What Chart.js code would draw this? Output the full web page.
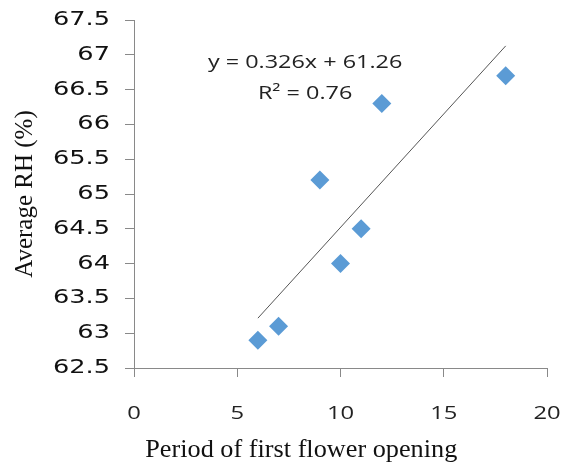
<!DOCTYPE html>
<html>
<head>
<meta charset="utf-8">
<script src="https://cdn.jsdelivr.net/npm/chart.js@4"></script>
<style>
  html, body { margin: 0; padding: 0; background: #fff; }
  #wrap { width: 566px; height: 466px; }
</style>
</head>
<body>
<div id="wrap"><canvas id="chart" width="566" height="466"></canvas></div>
<script>
  // data
  const periods = [6, 7, 9, 10, 11, 12, 18];
  const avgRH   = [62.9, 63.1, 65.2, 64.0, 64.5, 66.3, 66.7];
  const slope = 0.326, intercept = 61.26;
  const trendX = [6, 18];
  const xTicks = [0, 5, 10, 15, 20];
  const yTicks = [62.5, 63, 63.5, 64, 64.5, 65, 65.5, 66, 66.5, 67, 67.5];
  const eqLines = ['y = 0.326x + 61.26', 'R\u00b2 = 0.76'];
  const xTitle = 'Period of first flower opening';

  const axisGrey = '#898989';

  // the original text is drawn wide, so labels get a horizontal stretch
  function wideText(ctx, text, x, y, sx, align) {
    ctx.save();
    ctx.translate(x, y);
    ctx.scale(sx, 1);
    ctx.textAlign = align;
    ctx.textBaseline = 'middle';
    ctx.fillText(text, 0, 0);
    ctx.restore();
  }

  const labels = {
    id: 'labels',
    afterDraw(chart) {
      const { ctx } = chart;
      const x = chart.scales.x, y = chart.scales.y;
      ctx.save();
      ctx.fillStyle = '#111';
      ctx.font = '19px "DejaVu Sans"';
      yTicks.forEach(v => wideText(ctx, String(v), x.left - 24, y.getPixelForValue(v), 1.35, 'right'));
      ctx.fillStyle = '#222';
      ctx.font = '19px "Open Sans"';
      xTicks.forEach(v => wideText(ctx, String(v), x.getPixelForValue(v), y.bottom + 46, 1.25, 'center'));
      ctx.font = '18px "Open Sans"';
      wideText(ctx, eqLines[0], x.getPixelForValue(3.58), y.getPixelForValue(66.88), 1.3, 'left');
      wideText(ctx, eqLines[1], x.getPixelForValue(6.0), y.getPixelForValue(66.44), 1.3, 'left');
      ctx.fillStyle = '#111';
      ctx.font = '25px "Liberation Serif"';
      wideText(ctx, xTitle, x.getPixelForValue(8.1), 450, 1.05, 'center');
      ctx.restore();
    }
  };

  new Chart(document.getElementById('chart'), {
    type: 'scatter',
    data: {
      datasets: [
        {
          data: periods.map((p, i) => ({ x: p, y: avgRH[i] })),
          pointStyle: 'rectRot',
          pointRadius: 9.5,
          pointHoverRadius: 9.5,
          backgroundColor: '#5B9BD5',
          borderColor: '#5B9BD5',
          borderWidth: 0,
        },
        {
          type: 'line',
          data: trendX.map(v => ({ x: v, y: slope * v + intercept })),
          borderColor: '#555',
          borderWidth: 1,
          pointRadius: 0,
          fill: false,
        }
      ]
    },
    options: {
      responsive: false,
      animation: false,
      layout: { padding: { left: 0, right: 19, top: 20, bottom: 0 } },
      plugins: { legend: { display: false }, tooltip: { enabled: false } },
      scales: {
        x: {
          type: 'linear',
          min: 0, max: 20,
          afterBuildTicks: s => { s.ticks = xTicks.map(v => ({ value: v })); },
          afterFit: s => { s.height = 98; },
          grid: { drawOnChartArea: false, drawTicks: true, tickLength: 9, color: axisGrey },
          border: { color: axisGrey },
          ticks: { display: false }
        },
        y: {
          min: 62.5, max: 67.5,
          afterBuildTicks: s => { s.ticks = yTicks.map(v => ({ value: v })); },
          afterFit: s => { s.width = 134; },
          grid: { drawOnChartArea: false, drawTicks: true, tickLength: 9, color: axisGrey },
          border: { color: axisGrey },
          ticks: { display: false },
          title: { display: true, text: 'Average RH (%)', color: '#111',
                   font: { family: 'Liberation Serif', size: 25 }, padding: { top: 10 } }
        }
      }
    },
    plugins: [labels]
  });
</script>
</body>
</html>
